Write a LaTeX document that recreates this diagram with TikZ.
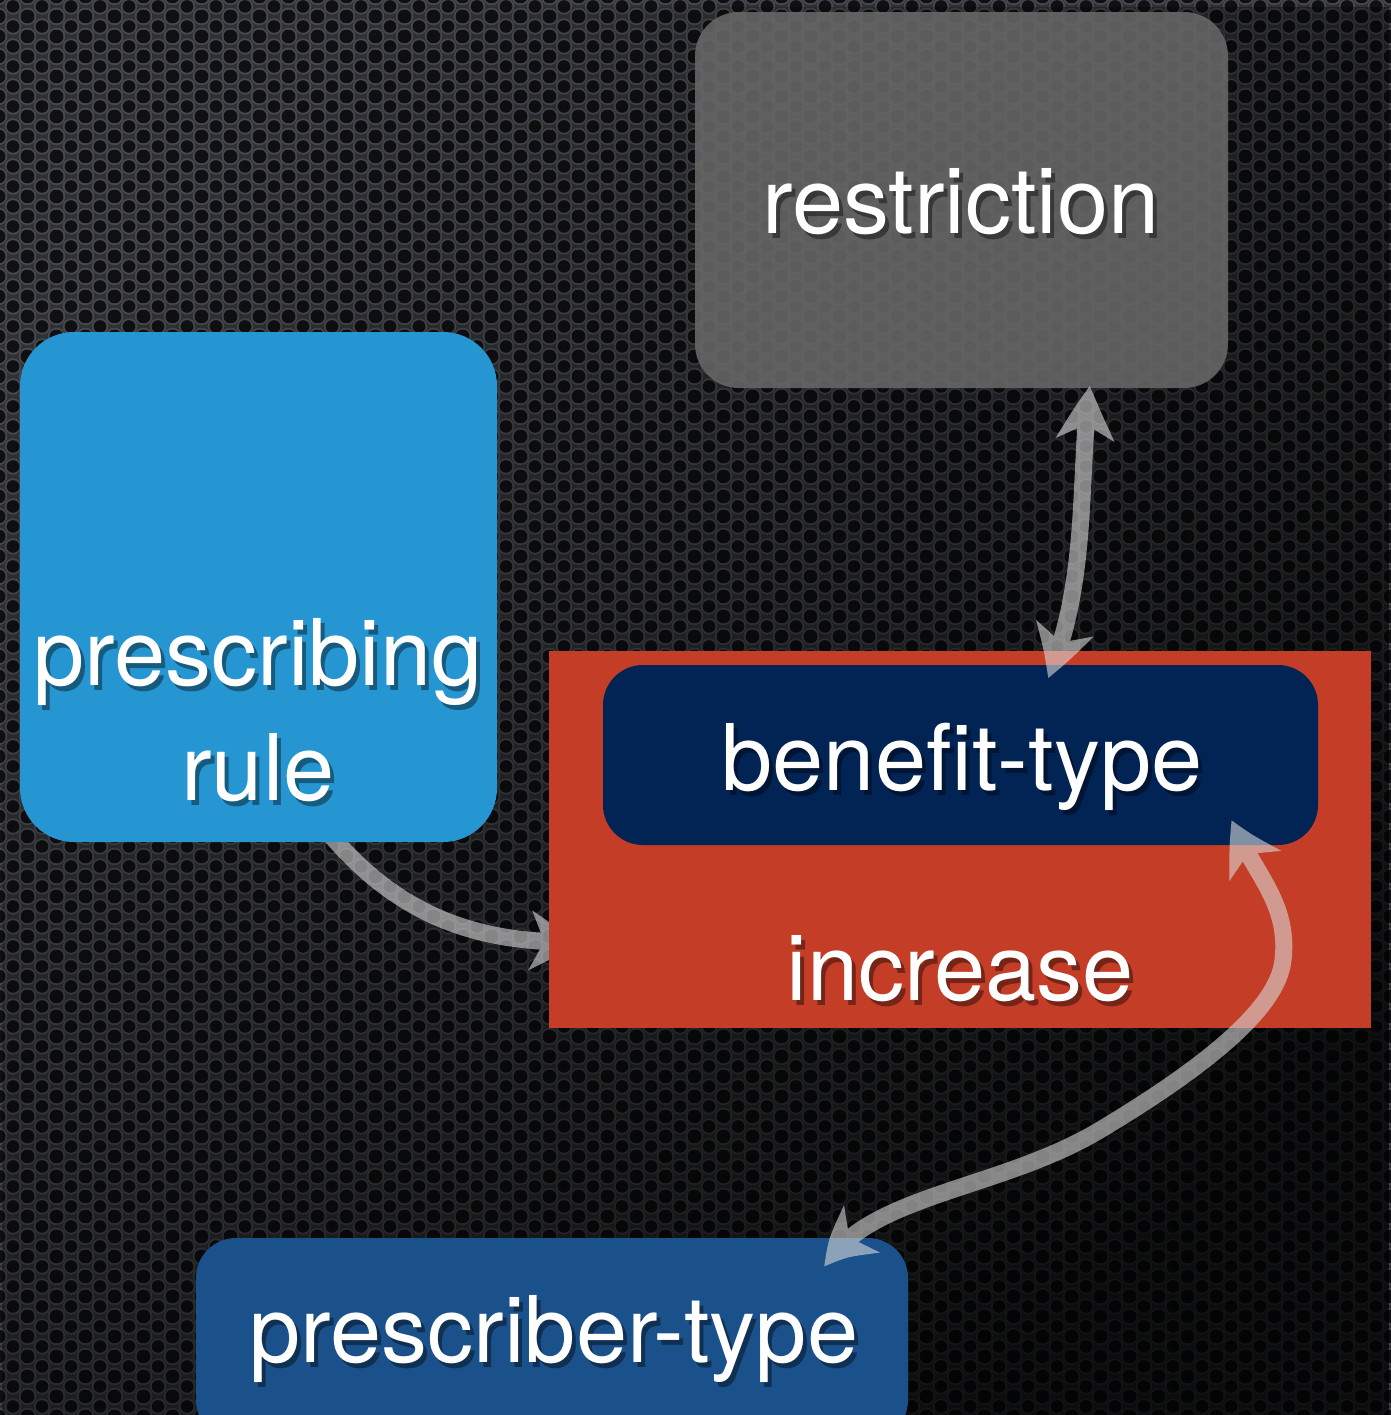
\documentclass[tikz,border=0pt]{standalone}
\usepackage{fontspec}
\setmainfont{TeX Gyre Heros}
\usetikzlibrary{arrows.meta,bending,patterns.meta,fadings}
\definecolor{bgbase}{HTML}{2E3035}
\definecolor{ringc}{HTML}{46494E}
\definecolor{holec}{HTML}{101013}
\definecolor{restrc}{HTML}{686868}
\definecolor{prc}{HTML}{2696D2}
\definecolor{incc}{HTML}{C43E27}
\definecolor{benc}{HTML}{012455}
\definecolor{prsc}{HTML}{1B518B}
\definecolor{arrc}{HTML}{D8D8D8}
\tikzdeclarepattern{
  name=perf,
  type=colored,
  bottom left={(0pt,0pt)},
  top right={(14.5pt,10pt)},
  tile size={(14.5pt,10pt)},
  code={
    \foreach \p in {(0pt,0pt),(14.5pt,0pt),(0pt,10pt),(14.5pt,10pt),(7.25pt,5pt)}{
      \fill[ringc] \p circle (4.3pt);
      \fill[holec] \p circle (3.3pt);
    }
  }
}
\tikzfading[name=vigfade, top color=transparent!100, bottom color=transparent!25]
\tikzset{
  box/.style={inner sep=0pt, outer sep=0pt, draw=none},
  lbl/.style={text=white, font=\fontsize{46}{55}\selectfont, inner sep=0pt, anchor=base},
  shd/.style={lbl, text=black, text opacity=0.4},
  conn/.style={draw=arrc, line width=8.5pt,
    -{Stealth[length=26pt,width=29pt,inset=7pt,bend]}},
  dconn/.style={draw=arrc, line width=8.5pt,
    {Stealth[length=26pt,width=29pt,inset=7pt,bend]}-{Stealth[length=26pt,width=29pt,inset=7pt,bend]}}
}
\begin{document}
\begin{tikzpicture}[x=0.5pt,y=-0.5pt]
\useasboundingbox (0,0) rectangle (1391,1415);
% background
\fill[bgbase] (0,0) rectangle (1391,1415);
\fill[pattern=perf] (0,0) rectangle (1391,1415);
\fill[black, path fading=vigfade, fading angle=45] (0,0) rectangle (1391,1415);

% connector under boxes
\coordinate (prstart) at (328,832);
\coordinate (inctip) at (582,942);
\begin{scope}[transparency group, opacity=0.6]
\draw[conn] (prstart) .. controls (400,918) and (480,944) .. (inctip);
\end{scope}

% boxes
\node[box, fill=restrc, fill opacity=0.88, rounded corners=22pt,
  minimum width=266.5pt, minimum height=188pt] (restr) at (961.5,200) {};
\node[box, fill=prc, rounded corners=27pt,
  minimum width=238.5pt, minimum height=255pt] (pr) at (258.5,587) {};
\node[box, fill=incc, minimum width=411pt, minimum height=188.5pt] (inc) at (960,839.5) {};
\node[box, fill=benc, rounded corners=20pt,
  minimum width=357.5pt, minimum height=90pt] (ben) at (960.5,755) {};
\node[box, fill=prsc, rounded corners=20pt,
  minimum width=356pt, minimum height=101pt] (prs) at (552,1339) {};

% connectors over boxes
\coordinate (rtip) at (1090,386);
\coordinate (btip) at (1048,678);
\coordinate (btip2) at (1232,820);
\coordinate (ptip) at (825,1267);
\begin{scope}[transparency group, opacity=0.6]
\draw[dconn] (rtip) .. controls (1078,470) and (1090,580) .. (btip);
\draw[dconn] (btip2) .. controls (1250,870) and (1290,900) .. (1283,960)
   .. controls (1278,1010) and (1200,1070) .. (1100,1130)
   .. controls (1000,1190) and (865,1195) .. (ptip);
\end{scope}

% labels with shadows
\node[shd] (restrs) at (965,238) {restriction};
\node[lbl] (restrt) at (961,233) {restriction};
\node[shd] (prs1) at (262,690) {prescribing};
\node[lbl] (prt1) at (258,685) {prescribing};
\node[shd] (prs2) at (262,805) {rule};
\node[lbl] (prt2) at (258,800) {rule};
\node[shd] (bens) at (966,795) {benefit-type};
\node[lbl] (bent) at (962,790) {benefit-type};
\node[shd] (incs) at (964,1005) {increase};
\node[lbl] (inct) at (960,1000) {increase};
\node[shd] (prss) at (558,1367) {prescriber-type};
\node[lbl] (prst) at (554,1362) {prescriber-type};
\end{tikzpicture}
\end{document}
